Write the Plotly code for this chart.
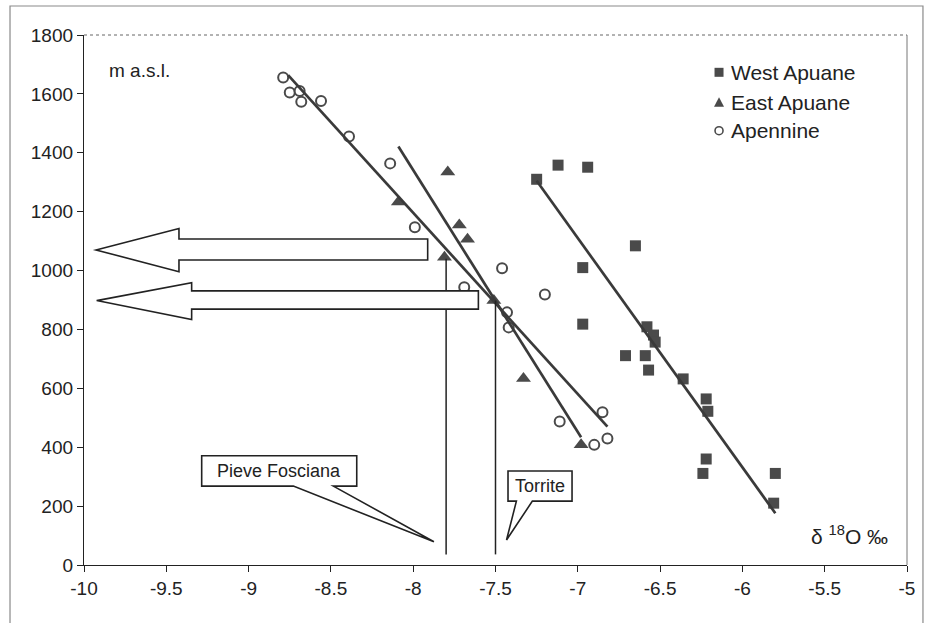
import plotly.graph_objects as go

# ---------------- data ----------------
west_x = [-7.25, -7.12, -6.94, -6.65, -6.97, -6.97, -6.58, -6.54, -6.53, -6.71, -6.59,
          -6.57, -6.36, -6.22, -6.21, -6.22, -6.24, -5.80, -5.81]
west_y = [1310, 1358, 1351, 1084, 1010, 818, 809, 781, 757, 711, 711,
          662, 632, 564, 522, 360, 311, 311, 210]

east_x = [-8.09, -7.79, -7.72, -7.67, -7.81, -7.51, -7.33, -6.98]
east_y = [1233, 1335, 1155, 1106, 1045, 898, 633, 408]

apen_x = [-8.79, -8.75, -8.69, -8.68, -8.56, -8.39, -8.14, -7.99, -7.69, -7.46,
          -7.20, -7.43, -7.42, -7.11, -6.85, -6.90, -6.82]
apen_y = [1656, 1605, 1610, 1573, 1576, 1455, 1364, 1147, 943, 1008,
          919, 858, 807, 487, 519, 408, 430]

# regression line end points
west_fit_x = [-7.25, -5.80]
west_fit_y = [1305, 176]
east_fit_x = [-8.09, -6.98]
east_fit_y = [1421, 434]
apen_fit_x = [-8.76, -6.82]
apen_fit_y = [1664, 470]

# springs (vertical markers)
site_names = ["Pieve Fosciana", "Torrite"]
site_x = [-7.8, -7.5]
site_top = [1040, 898]
site_bottom = [36, 36]

x_tickvals = [-10, -9.5, -9, -8.5, -8, -7.5, -7, -6.5, -6, -5.5, -5]
x_ticktext = ["-10", "-9.5", "-9", "-8.5", "-8", "-7.5", "-7", "-6.5", "-6", "-5.5", "-5"]
y_tickvals = [0, 200, 400, 600, 800, 1000, 1200, 1400, 1600, 1800]

series_names = ["West Apuane", "East Apuane", "Apennine"]

# ---------------- style ----------------
INK = "#222222"
MARK = "#4a4a4a"
LINE = "#3a3a3a"
FONT = "Liberation Sans, Arial, sans-serif"

fig = go.Figure()

fig.add_trace(go.Scatter(x=west_x, y=west_y, mode="markers", name=series_names[0],
                         marker=dict(symbol="square", size=11, color=MARK,
                                     line=dict(width=0)), showlegend=False))
fig.add_trace(go.Scatter(x=east_x, y=east_y, mode="markers", name=series_names[1],
                         marker=dict(symbol="triangle-up", size=13, color=MARK,
                                     line=dict(width=0)), showlegend=False))
fig.add_trace(go.Scatter(x=apen_x, y=apen_y, mode="markers", name=series_names[2],
                         marker=dict(symbol="circle", size=10, color="white",
                                     line=dict(width=2, color=MARK)), showlegend=False))

for fx, fy in [(west_fit_x, west_fit_y), (east_fit_x, east_fit_y), (apen_fit_x, apen_fit_y)]:
    fig.add_trace(go.Scatter(x=fx, y=fy, mode="lines", showlegend=False,
                             line=dict(color=LINE, width=2.7), hoverinfo="skip"))

for sx, st, sb in zip(site_x, site_top, site_bottom):
    fig.add_trace(go.Scatter(x=[sx, sx], y=[sb, st], mode="lines", showlegend=False,
                             line=dict(color=INK, width=1.5), hoverinfo="skip"))

shapes = []

# block arrows pointing left
def block_arrow(tip_x, tip_y, head_x, head_top, head_bot, sh_top, sh_bot, end_x):
    return ("M {tx},{ty} L {hx},{ht} L {hx},{st} L {ex},{st} L {ex},{sb} "
            "L {hx},{sb} L {hx},{hb} Z").format(tx=tip_x, ty=tip_y, hx=head_x, ht=head_top,
                                                hb=head_bot, st=sh_top, sb=sh_bot, ex=end_x)

shapes.append(dict(type="path", xref="x", yref="y", layer="above",
                   path=block_arrow(-9.927, 1070, -9.423, 1143, 996, 1107, 1036, -7.912),
                   fillcolor="white", line=dict(color=INK, width=1.6)))
shapes.append(dict(type="path", xref="x", yref="y", layer="above",
                   path=block_arrow(-9.923, 898, -9.346, 959, 834, 931, 869, -7.604),
                   fillcolor="white", line=dict(color=INK, width=1.6)))

# callout boxes
def callout(x0, x1, y0, y1, b0, b1, tx, ty):
    return ("M {x0},{y1} L {x1},{y1} L {x1},{y0} L {b1},{y0} L {tx},{ty} "
            "L {b0},{y0} L {x0},{y0} Z").format(x0=x0, x1=x1, y0=y0, y1=y1,
                                                b0=b0, b1=b1, tx=tx, ty=ty)

shapes.append(dict(type="path", xref="x", yref="y", layer="above",
                   path=callout(-9.285, -8.343, 268, 371, -8.728, -8.485, -7.874, 79),
                   fillcolor="white", line=dict(color=INK, width=1.6)))
shapes.append(dict(type="path", xref="x", yref="y", layer="above",
                   path=callout(-7.424, -7.035, 217, 319, -7.373, -7.276, -7.433, 85),
                   fillcolor="white", line=dict(color=INK, width=1.6)))

# plot-area border: dotted top, solid right
shapes.append(dict(type="line", xref="paper", yref="paper", x0=0, x1=1, y0=1, y1=1,
                   line=dict(color="#666666", width=1, dash="dot"), layer="below"))
shapes.append(dict(type="line", xref="paper", yref="paper", x0=1, x1=1, y0=0, y1=1,
                   line=dict(color="#777777", width=1), layer="below"))
# outer chart frame
shapes.append(dict(type="rect", xref="paper", yref="paper", x0=-0.0899, x1=1.0194,
                   y0=-0.12, y1=1.0547, line=dict(color="#8a8a8a", width=1.2), layer="below"))

# legend symbols (manual legend)
leg_x = 0.7716
leg_y = [0.9296, 0.873, 0.8194]
shapes.append(dict(type="rect", xref="paper", yref="paper", xsizemode="pixel", ysizemode="pixel",
                   xanchor=leg_x, yanchor=leg_y[0], x0=-4.5, x1=4.5, y0=-4.5, y1=4.5,
                   fillcolor=MARK, line=dict(width=0)))
shapes.append(dict(type="path", xref="paper", yref="paper", xsizemode="pixel", ysizemode="pixel",
                   xanchor=leg_x, yanchor=leg_y[1], path="M -5,-4.5 L 5,-4.5 L 0,5 Z",
                   fillcolor=MARK, line=dict(width=0)))
shapes.append(dict(type="circle", xref="paper", yref="paper", xsizemode="pixel", ysizemode="pixel",
                   xanchor=leg_x, yanchor=leg_y[2], x0=-4, x1=4, y0=-4, y1=4,
                   fillcolor="white", line=dict(color=MARK, width=1.6)))

annotations = []
for name, ly in zip(series_names, leg_y):
    annotations.append(dict(xref="paper", yref="paper", x=0.7837, y=ly, text=name,
                            showarrow=False, xanchor="left", yanchor="middle",
                            font=dict(size=21, color=INK, family=FONT)))

annotations.append(dict(xref="x", yref="y", x=-9.86, y=1681, text="m a.s.l.",
                        showarrow=False, xanchor="left", yanchor="middle",
                        font=dict(size=19, color=INK, family=FONT)))
annotations.append(dict(xref="x", yref="y", x=-5.349, y=102, text="δ <sup>18</sup>O ‰",
                        showarrow=False, xanchor="center", yanchor="middle",
                        font=dict(size=21, color=INK, family=FONT)))
annotations.append(dict(xref="x", yref="y", x=(-9.285 + -8.343) / 2, y=(268 + 371) / 2,
                        text=site_names[0], showarrow=False, xanchor="center", yanchor="middle",
                        font=dict(size=18, color=INK, family=FONT)))
annotations.append(dict(xref="x", yref="y", x=(-7.424 + -7.035) / 2, y=(217 + 319) / 2,
                        text=site_names[1], showarrow=False, xanchor="center", yanchor="middle",
                        font=dict(size=18, color=INK, family=FONT)))

fig.update_layout(
    width=931, height=623,
    margin=dict(l=84, r=24, t=35, b=58),
    paper_bgcolor="white", plot_bgcolor="white",
    showlegend=False,
    font=dict(family=FONT, size=19, color=INK),
    shapes=shapes, annotations=annotations,
    xaxis=dict(range=[-10, -5], tickvals=x_tickvals, ticktext=x_ticktext,
               showgrid=False, zeroline=False, showline=True, linecolor=INK, linewidth=1.3,
               ticks="outside", ticklen=6, tickcolor=INK, tickwidth=1.2,
               tickfont=dict(size=19, color=INK, family=FONT)),
    yaxis=dict(range=[0, 1800], tickvals=y_tickvals,
               showgrid=False, zeroline=False, showline=True, linecolor=INK, linewidth=1.3,
               ticks="outside", ticklen=6, tickcolor=INK, tickwidth=1.2,
               tickfont=dict(size=19, color=INK, family=FONT)),
)

fig.write_html("out.html", config={"displayModeBar": False},
               post_script="document.body.style.margin='0';document.body.style.overflow='hidden';")
